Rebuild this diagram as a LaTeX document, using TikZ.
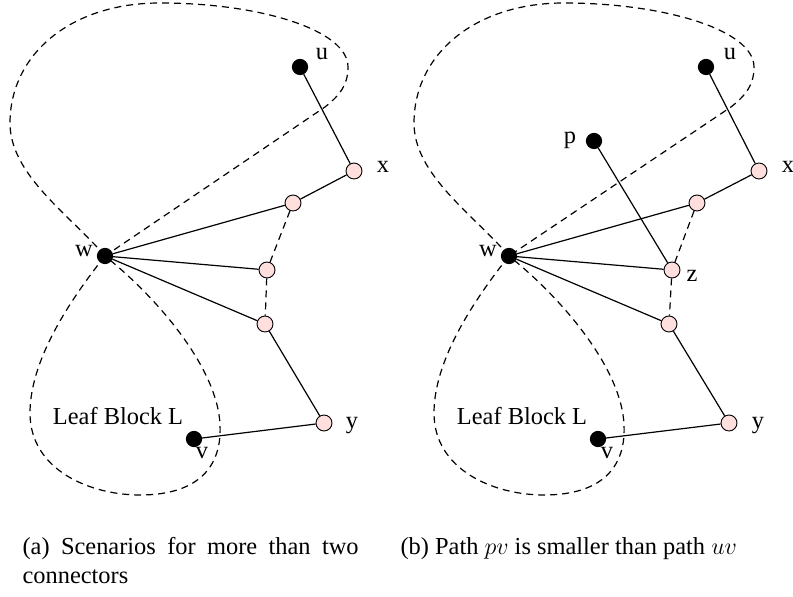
\documentclass[tikz,border=0pt]{standalone}
\usepackage{fontspec}
\setmainfont{Liberation Serif}

\tikzset{
  blk/.style={
    draw,circle,fill=black,inner sep=0pt,minimum size=7.5pt,
  },
  cut/.style={
    draw,circle,fill=red!13,inner sep=0pt,minimum size=8pt,line width=0.45pt,
  },
  lbl/.style={
    inner sep=0pt,
  },
  loop/.style={
    dash pattern=on 3.5pt off 2.5pt,
  },
  panel/.style={
    x=0.5pt,y=-0.5pt,line width=0.6pt,font=\fontsize{12.2}{14.5}\selectfont,
  }
}

\begin{document}
\begin{tikzpicture}[panel]
    \useasboundingbox (0,0) rectangle (793,597);

    % left panel
    \node[blk] (w) at (105,256) {};
    \node[blk] (u) at (300,67)  {};
    \node[blk] (v) at (194,439) {};
    \node[cut] (x) at (354,171) {};
    \node[cut] (a) at (293,203) {};
    \node[cut] (b) at (267,270) {};
    \node[cut] (c) at (265,324) {};
    \node[cut] (y) at (324,423) {};

    \node[lbl] (lu) at (322,54)  {u};
    \node[lbl] (lx) at (383,167) {x};
    \node[lbl] (lw) at (84,251)  {w};
    \node[lbl] (ly) at (352,426) {y};
    \node[lbl] (lv) at (202,453) {v};
    \node[lbl] (leaf) at (118,416) {Leaf Block L};

    \draw[loop] (w.center) .. controls (70,215) and (10,175) .. (10,123)
      .. controls (10,55) and (70,3) .. (160,3)
      .. controls (260,3) and (348,30) .. (348,67)
      .. controls (348,85) and (340,95) .. (325,107) -- (w.center);
    \draw[loop] (w.center) .. controls (70,300) and (30,360) .. (30,413)
      .. controls (30,470) and (90,495) .. (140,495)
      .. controls (200,495) and (222,465) .. (220,425)
      .. controls (218,370) and (160,300) .. (w.center);

    \draw (u) -- (x) -- (a) -- (w);
    \draw (w) -- (b);
    \draw (w) -- (c) -- (y) -- (v);
    \draw[loop] (a) -- (b) -- (c);

    \node[lbl,anchor=north west,text width=168pt,align=justify] (capa) at (22,537)
      {(a) Scenarios for more than two connectors};

    % right panel
    \begin{scope}[xshift=202pt]
      \node[blk] (w2) at (105,256) {};
      \node[blk] (u2) at (302,67)  {};
      \node[blk] (v2) at (194,439) {};
      \node[blk] (p2) at (190,141) {};
      \node[cut] (x2) at (355,171) {};
      \node[cut] (a2) at (293,203) {};
      \node[cut] (z2) at (268,270) {};
      \node[cut] (c2) at (265,324) {};
      \node[cut] (y2) at (325,423) {};

      \node[lbl] (lu2) at (326,54)  {u};
      \node[lbl] (lx2) at (384,167) {x};
      \node[lbl] (lw2) at (84,251)  {w};
      \node[lbl] (ly2) at (354,426) {y};
      \node[lbl] (lv2) at (203,453) {v};
      \node[lbl] (lp2) at (166,140) {p};
      \node[lbl] (lz2) at (288,276) {z};
      \node[lbl] (leaf2) at (118,416) {Leaf Block L};

      \draw[loop] (w2.center) .. controls (70,215) and (10,175) .. (10,123)
        .. controls (10,55) and (70,3) .. (160,3)
        .. controls (260,3) and (350,30) .. (350,67)
        .. controls (350,85) and (342,95) .. (327,107) -- (w2.center);
      \draw[loop] (w2.center) .. controls (70,300) and (30,360) .. (30,413)
        .. controls (30,470) and (90,495) .. (140,495)
        .. controls (200,495) and (222,465) .. (220,425)
        .. controls (218,370) and (160,300) .. (w2.center);

      \draw (u2) -- (x2) -- (a2) -- (w2);
      \draw (w2) -- (z2);
      \draw (p2) -- (z2);
      \draw (w2) -- (c2) -- (y2) -- (v2);
      \draw[loop] (a2) -- (z2) -- (c2);

      \node[lbl,anchor=north west] (capb) at (-4,537)
        {(b) Path $pv$ is smaller than path $uv$};
    \end{scope}
\end{tikzpicture}
\end{document}
